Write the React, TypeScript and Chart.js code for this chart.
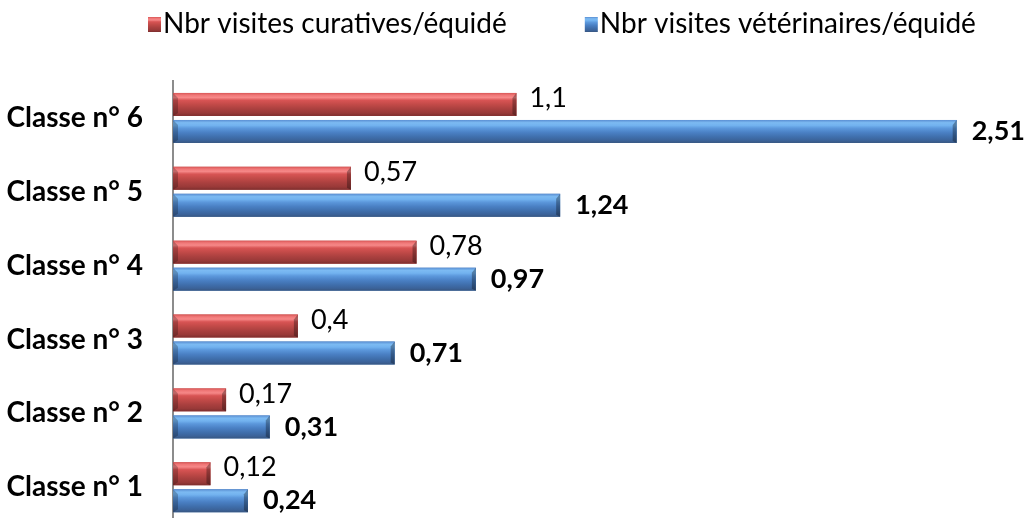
import React, { useEffect, useRef } from "react";
import { Chart, registerables } from "chart.js";

Chart.register(...registerables);

const categories = ["Classe n° 6", "Classe n° 5", "Classe n° 4", "Classe n° 3", "Classe n° 2", "Classe n° 1"];
const curatives = [1.1, 0.57, 0.78, 0.4, 0.17, 0.12];
const veterinaires = [2.51, 1.24, 0.97, 0.71, 0.31, 0.24];
const seriesLabels = ["Nbr visites curatives/équidé", "Nbr visites vétérinaires/équidé"];

const RED_STOPS: [number, string][] = [
  [0, "#d85656"],
  [0.1, "#f07878"],
  [0.2, "#f68888"],
  [0.32, "#d85454"],
  [0.5, "#c24a48"],
  [0.7, "#aa403f"],
  [0.88, "#983938"],
  [1, "#7c2e2e"],
];
const BLUE_STOPS: [number, string][] = [
  [0, "#5a8ed2"],
  [0.12, "#7cbaf2"],
  [0.24, "#72b2ef"],
  [0.36, "#5c98dc"],
  [0.55, "#4a80c4"],
  [0.75, "#3f6eab"],
  [0.9, "#3b6298"],
  [1, "#385680"],
];
const STOPS = [RED_STOPS, BLUE_STOPS];
const FONT = "Lato, 'Open Sans', sans-serif";

function grad(ctx: CanvasRenderingContext2D, top: number, bottom: number, stops: [number, string][]) {
  const g = ctx.createLinearGradient(0, top, 0, bottom);
  stops.forEach(([o, c]) => g.addColorStop(o, c));
  return g;
}

function fmt(v: number) {
  return String(v).replace(".", ",");
}

const bevelBars = {
  id: "bevelBars",
  afterDatasetsDraw(chart: any) {
    const ctx: CanvasRenderingContext2D = chart.ctx;
    chart.data.datasets.forEach((ds: any, di: number) => {
      const meta = chart.getDatasetMeta(di);
      meta.data.forEach((el: any, i: number) => {
        const { x, y, base, height } = el.getProps(["x", "y", "base", "height"], true);
        const top = y - height / 2;
        const bottom = y + height / 2;
        ctx.save();
        ctx.fillStyle = grad(ctx, top, bottom, STOPS[di]);
        ctx.fillRect(base, top, x - base, height);
        ctx.fillStyle = "rgba(0,0,0,0.22)";
        ctx.beginPath();
        ctx.moveTo(base, top);
        ctx.lineTo(base + 5, top + 5);
        ctx.lineTo(base + 5, bottom - 3);
        ctx.lineTo(base, bottom);
        ctx.closePath();
        ctx.fill();
        ctx.fillStyle = "rgba(0,0,0,0.3)";
        ctx.beginPath();
        ctx.moveTo(x, top);
        ctx.lineTo(x - 4, top + 5);
        ctx.lineTo(x - 4, bottom - 2);
        ctx.lineTo(x, bottom);
        ctx.closePath();
        ctx.fill();
        ctx.restore();

        ctx.save();
        ctx.font = (di === 0 ? "" : "bold ") + "27px " + FONT;
        ctx.fillStyle = "#000";
        ctx.textBaseline = "middle";
        ctx.textAlign = "left";
        ctx.fillText(fmt(ds.data[i]), x + (di === 0 ? 13 : 15), y + (di === 0 ? -6 : 0));
        ctx.restore();
      });
    });
  },
};

const topLegend = {
  id: "topLegend",
  afterDraw(chart: any) {
    const ctx: CanvasRenderingContext2D = chart.ctx;
    ctx.save();
    ctx.font = "28px " + FONT;
    ctx.textBaseline = "alphabetic";
    ctx.textAlign = "left";
    let x = 148;
    chart.data.datasets.forEach((ds: any, di: number) => {
      const bt = 17;
      const bh = 15;
      ctx.fillStyle = grad(ctx, bt, bt + bh, STOPS[di]);
      ctx.fillRect(x, bt, 13, bh);
      ctx.fillStyle = "#000";
      ctx.fillText(ds.label, x + 15, 33);
      x += 15 + ctx.measureText(ds.label).width + 78;
    });
    ctx.restore();
  },
};

export default function App() {
  const ref = useRef<HTMLCanvasElement | null>(null);
  useEffect(() => {
    if (!ref.current) return;
    const chart = new Chart(ref.current, {
      type: "bar",
      data: {
        labels: categories,
        datasets: [
          { label: seriesLabels[0], data: curatives, backgroundColor: "#c0504d", borderWidth: 0 },
          { label: seriesLabels[1], data: veterinaires, backgroundColor: "#4f81bd", borderWidth: 0 },
        ],
      },
      options: {
        indexAxis: "y",
        responsive: true,
        maintainAspectRatio: false,
        animation: false,
        datasets: { bar: { categoryPercentage: 0.732, barPercentage: 0.85 } },
        layout: { padding: { top: 81, bottom: 6, left: 0, right: 12 } },
        plugins: { legend: { display: false }, tooltip: { enabled: false } },
        scales: {
          x: { display: false, min: 0, max: 2.7 },
          y: {
            afterFit: (s: any) => {
              s.width = 173;
            },
            grid: { display: false, drawTicks: false },
            border: { display: true, color: "#8c8c8c", width: 2 },
            ticks: { color: "#000", padding: 30, font: { family: FONT, size: 28, weight: "bold" } },
          },
        },
      },
      plugins: [bevelBars, topLegend],
    });
    return () => chart.destroy();
  }, []);
  return (
    <div style={{ position: "fixed", left: 0, top: 0, width: 1028, height: 518, overflow: "hidden", background: "#fff" }}>
      <div style={{ position: "relative", width: 1028, height: 571 }}>
        <canvas ref={ref} />
      </div>
    </div>
  );
}
